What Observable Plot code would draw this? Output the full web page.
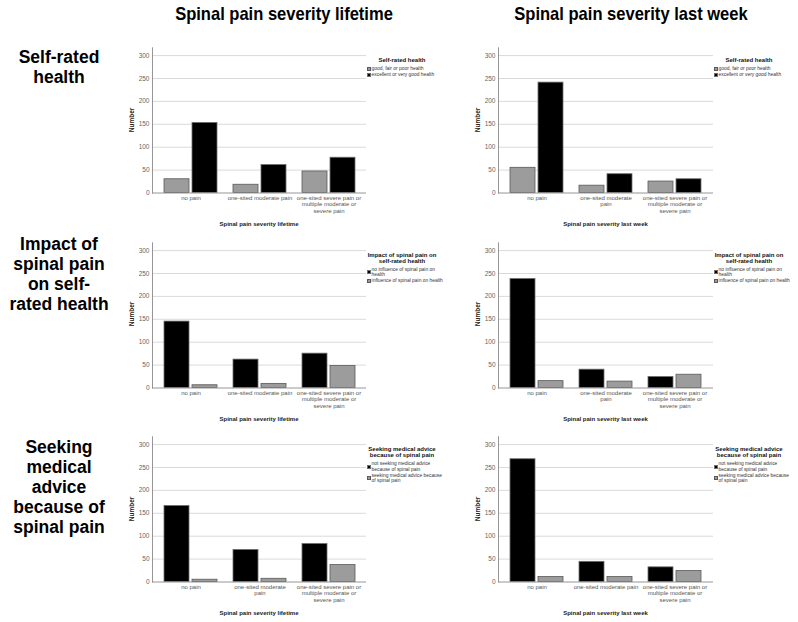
<!DOCTYPE html>
<html><head><meta charset="utf-8">
<script src="https://cdn.jsdelivr.net/npm/d3@7"></script>
<script src="https://cdn.jsdelivr.net/npm/@observablehq/plot@0.6"></script>
<style>
body{margin:0;background:#fff;}
#root{position:relative;width:798px;height:622px;overflow:hidden;background:#fff;font-family:"Liberation Sans",Arial,sans-serif;}
.abs{position:absolute;white-space:pre;}
.coltitle{font-weight:bold;font-size:19px;color:#000;transform:translate(-50%,-50%) scaleX(0.87);}
.rowtitle{font-weight:bold;font-size:17.5px;line-height:20px;text-align:center;color:#000;transform:translateX(-50%);}
.xtitle{font-weight:bold;font-size:6px;color:#222;transform:translate(-50%,-50%);}
.ytitle{font-weight:bold;font-size:6.5px;color:#222;transform:translate(-50%,-50%) rotate(-90deg);}
.legtitle{font-weight:bold;font-size:6px;line-height:6px;text-align:center;color:#111;transform:translateX(-50%);}
.legitem{display:flex;align-items:center;font-size:4.9px;line-height:5.4px;color:#333;margin-bottom:0.6px;}
.sw{width:4px;height:4px;margin-right:0.6px;flex:none;box-sizing:border-box;}
</style></head>
<body><div id="root"></div>
<script>
// ---- data ----
const categories = ["no pain", "one-sited moderate pain", "one-sited severe pain or multiple moderate or severe pain"];
const colTitles = ["Spinal pain severity lifetime", "Spinal pain severity last week"];
const rowTitles = ["Self-rated\nhealth", "Impact of\nspinal pain\non self-\nrated health", "Seeking\nmedical\nadvice\nbecause of\nspinal pain"];
const xTitles = ["Spinal pain severity lifetime", "Spinal pain severity last week"];
const yTitle = "Number";
const yTicks = [0, 50, 100, 150, 200, 250, 300];

const legendTitles = ["Self-rated health", "Impact of spinal pain on\nself-rated health", "Seeking medical advice\nbecause of spinal pain"];
const seriesSelfRated = ["good, fair or poor health", "excellent or very good health"];
const seriesImpact = ["no influence of spinal pain on\nhealth", "influence of spinal pain on health"];
const seriesSeeking = ["not seeking medical advice\nbecause of spinal pain", "seeking medical advice because\nof spinal pain"];

// Self-rated health
const srLifeGood = [30, 18, 47];
const srLifeExcellent = [153, 61, 77];
const srWeekGood = [55, 16, 25];
const srWeekExcellent = [241, 41, 30];
// Impact of spinal pain on self-rated health
const imLifeNo = [145, 62, 75];
const imLifeYes = [6, 9, 48];
const imWeekNo = [238, 40, 24];
const imWeekYes = [15, 14, 29];
// Seeking medical advice
const mdLifeNo = [166, 70, 83];
const mdLifeYes = [5, 7, 37];
const mdWeekNo = [268, 44, 32];
const mdWeekYes = [11, 11, 24];

// tick label wrapping per panel
const tickOneLine = ["no pain", "one-sited moderate pain", "one-sited severe pain or\nmultiple moderate or\nsevere pain"];
const tickWrapped = ["no pain", "one-sited moderate\npain", "one-sited severe pain or\nmultiple moderate or\nsevere pain"];

const GRAY = "#9c9c9c", BLACK = "#000000";

const panels = [
  [ {a: srLifeGood, b: srLifeExcellent, ticks: tickOneLine}, {a: srWeekGood, b: srWeekExcellent, ticks: tickWrapped} ],
  [ {a: imLifeNo, b: imLifeYes, ticks: tickOneLine}, {a: imWeekNo, b: imWeekYes, ticks: tickWrapped} ],
  [ {a: mdLifeNo, b: mdLifeYes, ticks: tickWrapped}, {a: mdWeekNo, b: mdWeekYes, ticks: tickOneLine} ]
];
const rowColors = [[GRAY, BLACK], [BLACK, GRAY], [BLACK, GRAY]];
const rowSeries = [seriesSelfRated, seriesImpact, seriesSeeking];

// ---- layout ----
const root = document.getElementById("root");
const colLeft = [110, 446], colMarginLeft = [42, 52], colFrameW = [214, 215];
const rowTop = [30, 224.5, 419];
const MT = 17.3, MB = 40, H = 202.5;

function addText(cls, text, x, y) {
  const d = document.createElement("div");
  d.className = "abs " + cls;
  d.textContent = text;
  d.style.left = x + "px"; d.style.top = y + "px";
  root.appendChild(d);
  return d;
}

addText("coltitle", colTitles[0], 284, 13.5);
addText("coltitle", colTitles[1], 631, 13.5);
const rowTitleTop = [46.5, 233.5, 436.5];
rowTitles.forEach((t, r) => addText("rowtitle", t, 59, rowTitleTop[r]));

const strokeFor = c => c === GRAY ? "#5a5a5a" : "#6e6e6e";

for (let r = 0; r < 3; r++) {
  for (let c = 0; c < 2; c++) {
    const p = panels[r][c];
    const [ca, cb] = rowColors[r];
    const rowsA = categories.map((k, i) => ({cat: k, value: p.a[i]}));
    const rowsB = categories.map((k, i) => ({cat: k, value: p.b[i]}));
    const W = colMarginLeft[c] + colFrameW[c];
    const chart = Plot.plot({
      width: W, height: H,
      marginLeft: colMarginLeft[c], marginRight: 0, marginTop: MT, marginBottom: MB,
      style: {fontFamily: "Liberation Sans, Arial, sans-serif", fontSize: "6px", color: "#555", background: "transparent", overflow: "visible"},
      x: {domain: categories, paddingInner: 0.235, paddingOuter: 0.16, axis: null},
      y: {domain: [0, 317], axis: null},
      marks: [
        Plot.gridY(yTicks.slice(1), {stroke: "#d6d6d6", strokeOpacity: 1, strokeWidth: 0.9}),
        Plot.barY(rowsA, {x: "cat", y: "value", fill: ca, stroke: strokeFor(ca), strokeWidth: 0.8, insetRight: 28}),
        Plot.barY(rowsB, {x: "cat", y: "value", fill: cb, stroke: strokeFor(cb), strokeWidth: 0.8, insetLeft: 28}),
        Plot.ruleY([0], {stroke: "#8a8a8a", strokeWidth: 0.9}),
        Plot.frame({anchor: "left", stroke: "#8a8a8a", strokeWidth: 0.9}),
        Plot.axisY(yTicks, {tickSize: 0, tickPadding: 3, fontSize: 6.5, label: null, fill: "#666"}),
        Plot.axisX({tickSize: 0, tickPadding: 3, label: null, fill: "#555", lineHeight: 1.02,
          tickFormat: d => p.ticks[categories.indexOf(d)]})
      ]
    });
    chart.style.position = "absolute";
    chart.style.left = colLeft[c] + "px";
    chart.style.top = rowTop[r] + "px";
    root.appendChild(chart);

    const frameL = colLeft[c] + colMarginLeft[c];
    const frameR = frameL + colFrameW[c];
    const axisTop = rowTop[r] + MT;
    const base = rowTop[r] + H - MB;
    addText("xtitle", xTitles[c], (frameL + frameR) / 2, base + 31.5);
    addText("ytitle", yTitle, frameL - 21.3, (axisTop + base) / 2);

    // legend
    const lg = document.createElement("div");
    lg.className = "abs";
    lg.style.left = (frameR + 1) + "px";
    lg.style.top = (axisTop + 10) + "px";
    lg.style.width = "80px";
    const lt = document.createElement("div");
    lt.className = "legtitle";
    lt.style.position = "relative";
    lt.style.left = "35px";
    lt.style.width = "80px";
    lt.style.whiteSpace = "pre";
    lt.style.marginBottom = "3px";
    lt.textContent = legendTitles[r];
    lg.appendChild(lt);
    rowSeries[r].forEach((name, i) => {
      const it = document.createElement("div");
      it.className = "legitem";
      const sw = document.createElement("div");
      sw.className = "sw";
      const col = rowColors[r][i];
      sw.style.background = col;
      sw.style.border = "0.5px solid " + strokeFor(col);
      const tx = document.createElement("div");
      tx.style.whiteSpace = "pre";
      tx.textContent = name;
      it.appendChild(sw); it.appendChild(tx);
      lg.appendChild(it);
    });
    root.appendChild(lg);
  }
}
</script>
</body></html>
